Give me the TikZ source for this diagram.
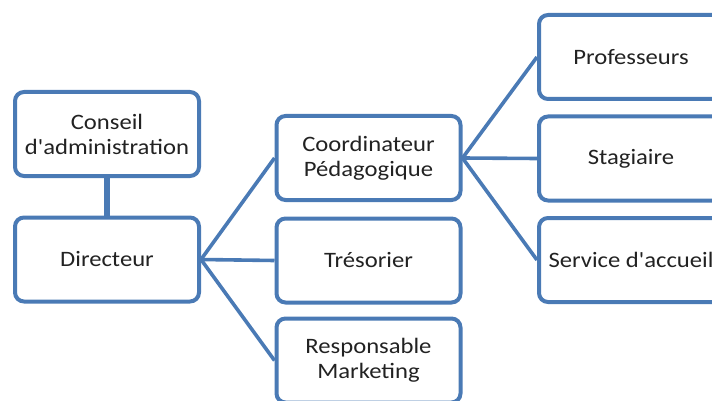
\documentclass[tikz,border=0pt]{standalone}
\usepackage{fontspec}
\newfontfamily\boxfont{Carlito}[FakeStretch=1.12]
\definecolor{boxblue}{HTML}{4A7AB5}
\definecolor{txt}{HTML}{222222}
\begin{document}
\begin{tikzpicture}[x=1pt,y=-1pt,
  orgbox/.style={draw=boxblue, line width=4pt, fill=white, rounded corners=9pt,
    minimum width=184pt, minimum height=84pt, align=center, text=txt,
    font=\boxfont\fontsize{22}{25}\selectfont, inner sep=0pt},
  link/.style={draw=boxblue, line width=3.6pt},
  thick link/.style={draw=boxblue, line width=6pt}]
\useasboundingbox (0,0) rectangle (712,401);
\node[orgbox] (conseil) at (107,134) {Conseil\\d'administration};
\node[orgbox] (dir) at (107,259.5) {Directeur};
\node[orgbox] (coord) at (368.5,158) {Coordinateur\\Pédagogique};
\node[orgbox] (treso) at (368.5,260.5) {Trésorier};
\node[orgbox] (resp) at (368.5,360.5) {Responsable\\Marketing};
\node[orgbox] (prof) at (631,57) {Professeurs};
\node[orgbox] (stag) at (631,158.5) {Stagiaire};
\node[orgbox] (serv) at (631,260) {Service d'accueil};
\draw[thick link] (conseil.south) -- (dir.north);
\draw[link] (dir.east) -- (coord.west);
\draw[link] (dir.east) -- (treso.west);
\draw[link] (dir.east) -- (resp.west);
\draw[link] (coord.east) -- (prof.west);
\draw[link] (coord.east) -- (stag.west);
\draw[link] (coord.east) -- (serv.west);
\end{tikzpicture}
\end{document}
